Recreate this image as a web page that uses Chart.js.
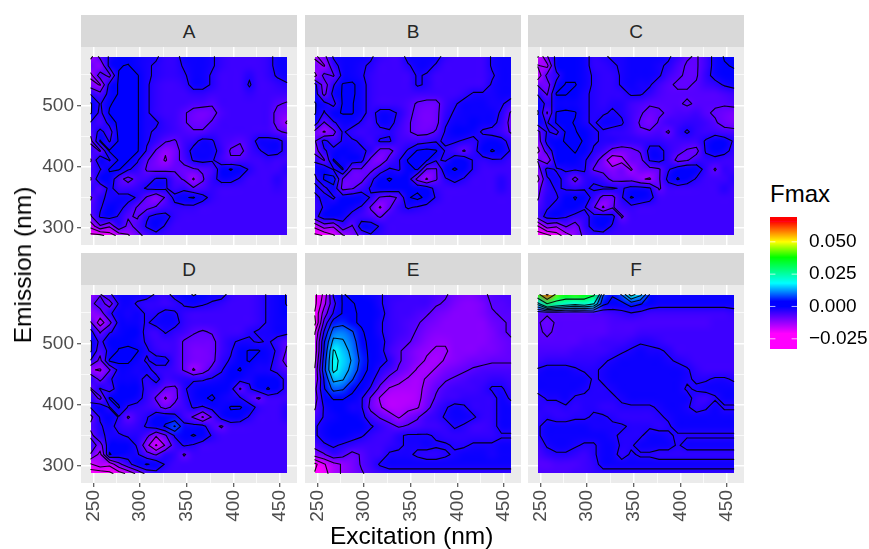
<!DOCTYPE html>
<html>
<head>
<meta charset="utf-8">
<script src="https://cdn.jsdelivr.net/npm/chart.js@4"></script>
<style>
  body { margin: 0; background: #fff; font-family: "Liberation Sans", sans-serif; }
  #page { position: relative; width: 869px; height: 549px; overflow: hidden; }
  #page canvas { position: absolute; }
  .strip { position: absolute; height: 32px; background: #d9d9d9; color: #262626; font-size: 19px; line-height: 33px; text-align: center; }
  .title { position: absolute; color: #000; font-size: 22px; white-space: nowrap; }
</style>
</head>
<body>
<div id="page"></div>
<script>
// grid positions, values are in units of 0.001 Fmax
const excitation = [247,257,267,277,287,297,307,317,327,337,347,357,367,377,387,397,407,417,427,437,447,457];
const emission = [580,565,549,534,519,503,488,472,457,442,426,411,396,380,365,350,334,319,303,288];
const contourLevels = [-27.5,-22.5,-17.5,-12.5,-7.5,-2.5,2.5,7.5,12.5,17.5,30,45,60];
const xMajor = [250,300,350,400,450];
const xMinor = [275,325,375,425];
const yMajor = [300,400,500];
const yMinor = [350,450,550];
const legendTicks = [-0.025,0,0.025,0.05];
const legendStops = [-0.021,0,0.004,0.018,0.038,0.05,0.066];
const legendColors = ['#ff00ff','#0000ff','#0000ff','#00ffff','#00ff00','#ffff00','#ff0000'];
const panelNames = ['A','B','C','D','E','F'];

const panelA = [
[-14,-6,-2,0,0,-1,-2,-2,-4,-4,-1,-1,-1,-2,-4,-5,-5,-5,-5,-4,-1,-1],
[-8,-12,-1,2,3,-1,-2,-3,-4,-4,-2,-1,-1,-2,-4,-5,-5,-5,-5,-4,-1,-1],
[-14,-5,-9,3,3,3,-2,-3,-4,-4,-3,-1,-1,-3,-5,-5,-5,-3,-5,-4,-2,-1],
[-10,-13,-1,3,4,3,-2,-4,-5,-5,-4,-1,-1,-3,-5,-5,-5,-2,-5,-5,-4,-3],
[-3,-6,-1,3,4,3,-2,-4,-5,-5,-5,-4,-4,-5,-5,-5,-5,-4,-5,-5,-5,-5],
[3,-3,2,4,4,3,-2,-4,-5,-5,-5,-6,-6,-7,-5,-5,-5,-5,-5,-5,-7,-8],
[3,-4,3,4,4,3,-2,-4,-5,-5,-7,-9,-10,-9,-6,-5,-5,-5,-5,-5,-9,-10],
[-3,-6,-1,4,3,3,-2,-2,-4,-5,-7,-9,-9,-7,-5,-5,-5,-5,-5,-5,-9,-13],
[-6,-1,-5,4,3,3,-2,-3,-4,-5,-6,-7,-7,-5,-5,-5,-5,-5,-5,-5,-7,-8],
[-9,3,-3,3,3,3,-2,-4,-7,-8,-5,-4,-1,-2,-5,-6,-7,-5,-1,-1,-1,-4],
[-4,-8,3,3,3,3,-3,-8,-12,-10,-5,-1,-1,-1,-4,-8,-9,-5,-3,-1,-1,-4],
[-8,2,-3,3,3,-2,-7,-10,-13,-9,-6,-2,-1,-2,-5,-7,-6,-5,-5,-4,-5,-5],
[-5,-3,3,3,-2,-4,-8,-9,-9,-8,-9,-8,-7,-6,0,3,0,-3,-5,-5,-5,-3],
[-8,2,1,-6,-9,-6,-5,-2,-2,-6,-8,-13,-8,-4,-1,-1,-3,-5,-5,-5,-3,-5],
[-3,-7,-1,-5,-5,-4,-2,-1,-2,-5,-4,-7,-6,-4,-5,-5,-5,-5,-5,-5,-4,-5],
[-8,-3,-2,-1,-1,-3,-8,-12,-7,-1,2,3,-1,-4,-5,-5,-5,-5,-5,-5,-5,-5],
[-6,-3,0,-1,-4,-8,-9,-7,-5,-4,-4,-4,-5,-5,-5,-5,-5,-5,-5,-5,-5,-5],
[-8,-2,0,-3,-7,-8,-3,-1,-1,-4,-5,-5,-5,-5,-5,-5,-5,-5,-5,-5,-5,-5],
[-16,-8,-12,-3,-9,-6,-2,0,-3,-5,-5,-5,-5,-5,-5,-5,-5,-5,-5,-5,-5,-5],
[-24,-24,-20,-16,-13,-9,-6,-4,-5,-5,-5,-5,-5,-5,-5,-5,-5,-5,-5,-5,-5,-5]
];
const panelB = [
[-14,-9,-2,-1,-1,-1,-2,-4,-5,-5,-1,-1,-1,-1,-4,-5,-5,-5,-5,-2,-1,-1],
[-9,-13,-4,-1,-1,-2,-3,-5,-5,-5,-3,-1,-1,-3,-5,-5,-5,-5,-5,-2,-1,-1],
[-14,-6,-8,-1,-1,-2,-4,-5,-5,-5,-5,-2,-3,-5,-5,-5,-5,-5,-5,-3,-1,-1],
[-1,-10,-3,3,4,-1,-4,-5,-5,-5,-5,-2,-3,-5,-5,-5,-5,-5,-5,-2,-1,-1],
[0,-9,-1,3,4,-1,-4,-5,-5,-5,-5,-5,-5,-5,-5,-5,-4,-2,-2,-2,-1,-1],
[3,-1,-4,3,3,-1,-4,-5,-5,-5,-6,-8,-9,-9,-5,-3,-1,-1,-1,-2,-2,-4],
[3,-3,1,3,3,-1,-4,-1,-1,-3,-6,-9,-10,-9,-4,-2,-1,-1,-1,-1,-3,-8],
[0,-8,-3,-1,-1,-3,-5,-1,-1,-4,-7,-9,-10,-9,-3,-1,-1,0,-1,-1,-4,-9],
[-9,-13,-9,-2,-4,-5,-4,-4,-3,-5,-7,-9,-9,-7,-2,0,0,-1,-3,-4,-5,-8],
[-8,-1,-5,-2,-2,-3,-5,-2,-2,-5,-5,-5,-4,-3,-2,-2,-3,-4,-1,0,-1,-4],
[-10,-3,-1,2,-1,-2,-3,-9,-9,-5,-2,3,4,3,-3,-5,-8,-4,0,3,1,-3],
[-3,-8,3,-1,0,-1,-9,-11,-6,-3,3,4,3,-2,-3,0,1,-3,-4,-3,-3,-5],
[-1,2,-3,3,-8,-8,-9,-5,-2,-3,1,3,-8,-8,1,3,1,-3,-5,-5,-5,-5],
[-4,3,5,-8,-9,-9,-4,1,3,1,0,-9,-13,-8,-3,-1,-3,-5,-5,-5,-3,-5],
[-1,-4,1,-9,-8,-5,-2,1,1,0,1,1,0,-4,-5,-5,-5,-5,-5,-5,-3,-5],
[-4,-1,-3,0,1,1,-3,-8,-9,-7,2,4,1,-3,-5,-5,-5,-5,-5,-5,-5,-5],
[-5,-2,0,1,-1,-3,-8,-13,-8,-4,-2,-3,-4,-5,-5,-5,-5,-5,-5,-5,-5,-5],
[-4,0,1,-1,-4,-5,-6,-8,-5,-5,-5,-5,-5,-5,-5,-5,-5,-5,-5,-5,-5,-5],
[-16,-10,-12,-4,-8,0,0,-3,-5,-5,-5,-5,-5,-5,-5,-5,-5,-5,-5,-5,-5,-5],
[-24,-22,-18,-13,-10,-6,-3,-4,-5,-5,-5,-5,-5,-5,-5,-5,-5,-5,-5,-5,-5,-5]
];
const panelC = [
[-18,-8,-1,0,0,-1,-4,-3,-2,-2,-1,-1,-1,-1,-2,-4,-7,-8,-5,-1,3,3],
[-12,-14,0,1,0,-1,-4,-4,-3,-2,-1,-1,-1,-2,-3,-6,-8,-8,-5,-1,2,3],
[-16,-6,-4,1,1,-1,-3,-4,-4,-2,-1,-1,-1,-2,-5,-7,-8,-8,-4,-1,0,1],
[-8,-10,-1,3,3,-1,-3,-4,-4,-2,-1,-2,-2,-5,-7,-8,-8,-7,-5,-4,-2,-1],
[-3,-8,3,3,0,-2,-3,-4,-4,-4,-2,-2,-4,-6,-7,-7,-7,-7,-7,-7,-6,-5],
[1,-4,-1,-1,-1,-2,-3,-4,-3,-3,-5,-6,-7,-7,-7,-7,-8,-7,-7,-7,-7,-6],
[3,-8,3,4,3,-2,-3,-3,-2,-3,-5,-7,-9,-8,-7,-6,-6,-5,-7,-8,-9,-10],
[0,-3,3,4,2,-2,-3,-1,-1,-2,-5,-8,-10,-7,-5,-5,-4,-4,-5,-7,-9,-10],
[-9,-2,-4,3,3,0,-2,-3,-4,-4,-5,-7,-7,-6,-8,-4,-2,-4,-5,-5,-6,-6],
[-10,-1,1,3,4,2,-2,-3,-3,-4,-4,-4,-4,-4,-5,-5,-5,-5,-2,2,0,-3],
[-14,-5,0,1,3,0,-3,-5,-9,-10,-9,-7,-1,-1,-4,-6,-8,-9,-2,0,-1,-4],
[-7,-12,1,1,1,-2,-5,-10,-16,-14,-9,-9,-2,-1,-4,-9,-8,-5,-4,-4,-5,-5],
[-10,-1,-3,-2,-2,-2,-8,-9,-11,-9,-13,-9,-9,-8,-3,0,2,0,-4,-8,-4,-5],
[-14,-3,-1,-4,-9,-4,-3,-5,-9,-9,-9,-12,-13,-8,-1,3,0,-3,-5,-5,-5,-3],
[-9,-4,-2,-3,-4,-3,-2,-2,-2,-3,-1,-1,-2,-8,-5,-5,-5,-5,-5,-5,-3,-5],
[-8,-3,-3,0,3,0,-4,-9,-9,-3,3,1,-1,-5,-5,-5,-5,-5,-5,-5,-5,-5],
[-6,-3,-1,1,1,-2,-7,-13,-8,-5,-4,-5,-5,-5,-5,-5,-5,-5,-5,-5,-5,-5],
[-5,-1,0,-2,-4,-4,-1,0,-1,-8,-5,-5,-5,-5,-5,-5,-5,-5,-5,-5,-5,-5],
[-18,-10,-12,-7,-10,-4,-1,0,-3,-5,-5,-5,-5,-5,-5,-5,-5,-5,-5,-5,-5,-5],
[-26,-24,-20,-15,-11,-6,-4,-4,-5,-5,-5,-5,-5,-5,-5,-5,-5,-5,-5,-5,-5,-5]
];
const panelD = [
[-12,-8,-3,-1,-1,-1,-1,-3,-4,-1,0,3,1,-1,-1,-4,-5,-5,-4,-2,-1,3],
[-9,-5,-10,-2,-1,-3,-4,-4,-5,-4,-2,-1,-2,-3,-4,-5,-5,-5,-4,-2,-1,3],
[-12,-10,-3,-1,-2,-1,-3,-3,-1,-2,-4,-5,-5,-5,-5,-5,-5,-5,-4,-2,-1,0],
[-7,-15,-9,-1,-1,-1,-3,-1,-1,-1,-4,-5,-5,-5,-5,-5,-5,-5,-4,-2,-1,-1],
[-1,-8,-3,-1,1,0,-4,-5,-2,-4,-5,-7,-8,-7,-5,-5,-5,-3,-2,-2,-1,-1],
[3,-4,1,1,1,-1,-3,-5,-5,-5,-8,-9,-9,-9,-5,-3,-2,-2,-3,-2,-4,-7],
[3,-6,-1,3,4,3,-2,-4,-5,-5,-8,-10,-10,-9,-5,-3,1,3,3,-1,-3,-8],
[-3,-9,3,4,4,-1,-3,-1,-1,-5,-8,-10,-10,-9,-4,-2,1,3,-1,-1,-4,-10],
[-12,-13,-8,-1,-1,-2,-1,-4,-4,-5,-8,-13,-10,-6,-3,1,3,-1,-2,-2,-4,-6],
[-3,-9,-3,-1,-1,-1,-4,-1,-5,-4,-3,-3,-3,-2,-1,1,-1,-2,0,0,0,-4],
[-8,-2,-5,0,0,0,-4,-5,-8,-9,-3,-1,0,0,1,-1,-8,-3,0,3,0,-4],
[-3,-9,3,1,0,-1,-4,-8,-13,-9,-4,-1,1,4,-1,-2,-2,-6,-8,-5,-5,-5],
[-2,1,-3,3,-3,-4,-5,-6,-9,-6,-5,-2,-3,-1,-1,3,3,0,-4,-5,-5,-3],
[-9,-2,2,-3,-8,-5,-3,1,1,-1,-5,-8,-13,-7,-1,1,0,-3,-5,-5,-5,-3],
[-6,-3,-1,-4,-5,-4,-2,0,3,8,-1,-1,-1,-6,-8,-5,-5,-5,-5,-5,-5,-5],
[-9,-3,-2,-2,-3,-3,-6,-12,-8,-2,1,3,1,-3,-5,-5,-5,-5,-5,-5,-5,-5],
[-4,-10,1,1,0,-3,-11,-18,-12,-5,-2,-3,-5,-5,-5,-5,-5,-5,-5,-5,-5,-5],
[-8,-14,3,0,-1,-2,-6,-8,-3,-4,-8,-5,-5,-5,-5,-5,-5,-5,-5,-5,-5,-5],
[-18,-14,-16,-9,-4,0,3,1,-3,-5,-5,-5,-5,-5,-5,-5,-5,-5,-5,-5,-5,-5],
[-26,-26,-24,-20,-16,-11,-6,-4,-5,-5,-5,-5,-5,-5,-5,-5,-5,-5,-5,-5,-5,-5]
];
const panelE = [
[-24,-16,-2,3,1,1,-1,-2,-4,-4,-5,-5,-5,-6,-7,-9,-10,-10,-8,-7,-6,-6],
[-24,-14,-4,3,3,1,0,-2,-4,-5,-5,-5,-5,-7,-8,-10,-11,-11,-10,-7,-7,-6],
[-22,-10,-2,3,3,2,0,-1,-4,-5,-5,-6,-7,-9,-10,-11,-11,-11,-10,-8,-7,-7],
[-24,-6,5,6,3,2,1,-2,-4,-5,-6,-7,-9,-10,-11,-11,-11,-11,-11,-9,-8,-7],
[-18,-2,10,11,8,3,1,-2,-4,-5,-6,-8,-10,-11,-11,-11,-11,-11,-11,-10,-8,-7],
[-16,2,14,13,10,4,1,-1,-4,-6,-7,-9,-11,-12,-12,-11,-11,-11,-11,-10,-9,-8],
[-16,3,18,15,11,5,1,-1,-5,-7,-9,-11,-12,-13,-13,-11,-11,-11,-10,-10,-9,-8],
[-14,5,19,16,12,6,1,-1,-3,-7,-9,-11,-13,-14,-12,-11,-10,-9,-9,-8,-8,-8],
[-12,6,19,15,11,5,1,-3,-5,-8,-10,-13,-14,-12,-10,-9,-8,-7,-6,-6,-6,-6],
[-12,3,14,13,8,3,-1,-5,-9,-11,-13,-14,-12,-10,-8,-7,-6,-5,-5,-4,-4,-5],
[-9,2,9,8,4,0,-3,-9,-13,-14,-14,-14,-11,-8,-6,-5,-5,-5,-4,-2,-2,-4],
[-10,0,3,3,1,-2,-8,-13,-15,-15,-15,-14,-10,-7,-5,-5,-4,-4,-4,-4,-1,-3],
[-8,-2,0,0,-2,-2,-9,-12,-15,-15,-14,-13,-9,-5,-3,-1,-2,-4,-4,-4,-1,-1],
[-6,-2,-1,0,0,-1,-5,-8,-10,-13,-10,-8,-5,-4,-2,-1,-1,-2,-4,-4,-1,-1],
[-3,-1,0,0,0,0,-2,-4,-6,-8,-7,-6,-5,-5,-4,-2,-3,-5,-5,-4,-1,-1],
[-3,-1,0,0,-1,-2,-4,-5,-5,-3,-2,-2,-2,-3,-4,-4,-4,-4,-4,-4,-3,-3],
[-6,-3,-2,-3,-4,-5,-5,-5,-4,-3,-2,-2,-1,-2,-2,-3,-3,-2,-2,-2,-1,-1],
[-10,-8,-4,-6,-9,-7,-5,-5,-2,-2,-2,-3,-4,-4,-3,-2,-1,-1,-1,-2,-1,-1],
[-24,-18,-14,-12,-10,-7,-5,-2,-1,-1,-1,-1,-1,-1,-1,-1,-1,-1,-1,-1,-1,-1],
[-22,-20,-14,-12,-10,-8,-6,-5,-4,-4,-4,-4,-4,-4,-4,-4,-4,-4,-4,-4,-4,-4]
];
const panelF = [
[40,62,42,38,40,38,32,8,3,8,20,14,2,-1,-1,-1,-1,-1,-1,-1,-1,-1],
[15,30,25,22,20,22,18,4,1,1,5,3,0,-1,-1,-1,-1,-1,-1,-1,-1,-1],
[-7,-7,-7,-7,-7,-7,-6,-6,-5,-4,-3,-4,-5,-5,-5,-5,-5,-5,-5,-5,-5,-4],
[-7,-9,-7,-7,-7,-7,-7,-7,-6,-6,-6,-6,-6,-6,-6,-6,-6,-6,-6,-5,-5,-5],
[-7,-8,-7,-7,-7,-7,-7,-7,-6,-6,-6,-5,-5,-5,-5,-5,-5,-5,-5,-5,-5,-5],
[-7,-7,-7,-7,-7,-6,-6,-5,-5,-5,-4,-3,-3,-4,-5,-5,-5,-5,-5,-5,-5,-5],
[-6,-6,-6,-6,-5,-5,-5,-5,-4,-3,-2,-1,-2,-2,-3,-5,-5,-5,-5,-5,-5,-5],
[-5,-4,-4,-4,-4,-4,-4,-3,-2,-1,-1,-1,-1,-1,-2,-3,-4,-5,-5,-5,-5,-5],
[-2,-1,-1,-1,-2,-3,-3,-2,-1,-1,-1,-1,-1,-1,-1,-1,-2,-4,-5,-5,-5,-5],
[-1,-1,-1,-1,-1,-1,-3,-2,-1,-1,-1,-1,-1,-1,-1,-1,-2,-3,-3,-2,-2,-3],
[-1,-1,-1,-1,-1,-2,-3,-3,-2,-1,-1,-1,-1,-1,-1,-1,-3,-2,-1,-1,-1,-1],
[-4,-2,-2,-1,-3,-3,-3,-3,-3,-2,-1,-1,-1,-1,-1,-1,-1,-4,-5,-3,-1,-1],
[-3,-4,-4,-3,-4,-3,-3,-4,-4,-3,-3,-3,-3,-2,-1,-1,-2,-4,-3,-1,-3,-3],
[-4,-3,-4,-4,-3,-3,-2,-2,-3,-4,-4,-4,-4,-3,-2,-1,-1,-1,-1,-1,-1,-1],
[-3,-1,-1,-1,-1,-1,-2,-2,-2,-2,-3,-3,-3,-4,-3,-1,-1,-1,-1,-1,-1,-1],
[-3,-1,-1,-1,-1,-1,-1,-1,-2,-3,-3,-3,-1,-1,-2,-3,-3,-3,-3,-3,-3,-3],
[-5,-2,-1,-1,-2,-3,-3,-1,-1,-3,-3,-1,-1,-1,-1,-3,-1,-1,-1,-1,-1,-1],
[-6,-4,-3,-3,-4,-5,-3,-1,-1,-4,-2,-3,-3,-4,-4,-4,-4,-4,-4,-4,-4,-4],
[-7,-7,-6,-6,-6,-5,-4,-1,-1,-1,-1,-1,-1,-1,-1,-1,-1,-1,-1,-1,-1,-1],
[-6,-6,-6,-6,-5,-5,-4,-4,-4,-4,-4,-4,-4,-4,-4,-4,-4,-4,-4,-4,-4,-4]
];
const panels = [panelA, panelB, panelC, panelD, panelE, panelF];

const page = document.getElementById('page');

function addDiv(cls, text, css) {
    const div = document.createElement('div');
    div.className = cls;
    div.textContent = text;
    Object.assign(div.style, css);
    page.appendChild(div);
}

function addCanvas(left, top, width, height) {
    const canvas = document.createElement('canvas');
    canvas.width = width;
    canvas.height = height;
    canvas.style.left = left + 'px';
    canvas.style.top = top + 'px';
    page.appendChild(canvas);
    return canvas;
}

function hexToRgb(hex) {
    return [1, 3, 5].map(i => parseInt(hex.substr(i, 2), 16));
}

// value is in Fmax units
function colorFor(value) {
    const v = Math.min(legendStops[legendStops.length - 1], Math.max(legendStops[0], value));
    for (let i = 1; i < legendStops.length; i++) {
        if (v <= legendStops[i]) {
            const t = (v - legendStops[i - 1]) / (legendStops[i] - legendStops[i - 1]);
            const a = hexToRgb(legendColors[i - 1]);
            const b = hexToRgb(legendColors[i]);
            return a.map((c, k) => Math.round(c + (b[k] - c) * t));
        }
    }
    return hexToRgb(legendColors[legendColors.length - 1]);
}

const panelBackground = {
    id: 'panelBackground',
    beforeDraw(chart) {
        const a = chart.chartArea;
        chart.ctx.fillStyle = '#ebebeb';
        chart.ctx.fillRect(a.left, a.top, a.width, a.height);
    }
};

function drawRaster(chart) {
    const ctx = chart.ctx;
    const sx = chart.scales.x;
    const sy = chart.scales.y;
    const off = document.createElement('canvas');
    off.width = excitation.length;
    off.height = emission.length;
    const offCtx = off.getContext('2d');
    const img = offCtx.createImageData(off.width, off.height);
    chart.data.datasets[0].data.forEach((p, i) => {
        const c = colorFor(p.v * 0.001);
        img.data[i * 4] = c[0];
        img.data[i * 4 + 1] = c[1];
        img.data[i * 4 + 2] = c[2];
        img.data[i * 4 + 3] = 255;
    });
    offCtx.putImageData(img, 0, 0);
    const x0 = sx.getPixelForValue(excitation[0]);
    const x1 = sx.getPixelForValue(excitation[excitation.length - 1]);
    const y0 = sy.getPixelForValue(emission[0]);
    const y1 = sy.getPixelForValue(emission[emission.length - 1]);
    ctx.imageSmoothingEnabled = true;
    ctx.imageSmoothingQuality = 'high';
    ctx.drawImage(off, 0.5, 0.5, off.width - 1, off.height - 1, x0, y0, x1 - x0, y1 - y0);
}

// marching squares over the grid, one level at a time
function drawContours(chart, grid) {
    const ctx = chart.ctx;
    const sx = chart.scales.x;
    const sy = chart.scales.y;
    ctx.save();
    ctx.strokeStyle = 'rgba(0,0,0,0.9)';
    ctx.lineWidth = 1.1;
    ctx.lineJoin = 'round';
    ctx.lineCap = 'round';
    contourLevels.forEach(level => {
        ctx.beginPath();
        for (let r = 0; r < emission.length - 1; r++) {
            for (let c = 0; c < excitation.length - 1; c++) {
                const corners = [
                    [c, r, grid[r][c]],
                    [c + 1, r, grid[r][c + 1]],
                    [c + 1, r + 1, grid[r + 1][c + 1]],
                    [c, r + 1, grid[r + 1][c]]
                ];
                const hits = [];
                for (let k = 0; k < 4; k++) {
                    const a = corners[k];
                    const b = corners[(k + 1) % 4];
                    if ((a[2] < level) !== (b[2] < level)) {
                        const t = (level - a[2]) / (b[2] - a[2]);
                        const ex = excitation[a[0]] + (excitation[b[0]] - excitation[a[0]]) * t;
                        const em = emission[a[1]] + (emission[b[1]] - emission[a[1]]) * t;
                        hits.push([sx.getPixelForValue(ex), sy.getPixelForValue(em)]);
                    }
                }
                for (let k = 0; k + 1 < hits.length; k += 2) {
                    ctx.moveTo(hits[k][0], hits[k][1]);
                    ctx.lineTo(hits[k + 1][0], hits[k + 1][1]);
                }
            }
        }
        ctx.stroke();
    });
    ctx.restore();
}

const eemPlugin = {
    id: 'eemPlugin',
    beforeDatasetsDraw(chart, args, opts) {
        drawRaster(chart);
        drawContours(chart, opts.grid);
    }
};

function makePanel(index) {
    const col = index % 3;
    const row = Math.floor(index / 3);
    const panelLeft = [81, 305, 528][col];
    const stripTop = [15, 253][row];
    const isLeft = col === 0;
    const isBottom = row === 1;
    const grid = panels[index];

    addDiv('strip', panelNames[index], { left: panelLeft + 'px', top: stripTop + 'px', width: '216px' });

    const canvas = addCanvas(panelLeft - 50, stripTop, 266, 280);
    const points = [];
    emission.forEach((em, r) => {
        excitation.forEach((ex, c) => {
            points.push({ x: ex, y: em, v: grid[r][c] });
        });
    });

    new Chart(canvas, {
        type: 'scatter',
        data: { datasets: [{ label: panelNames[index], data: points, pointRadius: 0, pointHoverRadius: 0 }] },
        plugins: [panelBackground, eemPlugin],
        options: {
            responsive: false,
            animation: false,
            layout: { autoPadding: false, padding: { top: 32, left: 0, right: 0, bottom: 0 } },
            plugins: {
                legend: { display: false },
                tooltip: { enabled: false },
                eemPlugin: { grid: grid }
            },
            scales: {
                x: {
                    type: 'linear',
                    min: 236.5,
                    max: 468,
                    afterFit: s => { s.height = 50; s.paddingLeft = 0; s.paddingRight = 0; },
                    afterBuildTicks: s => {
                        s.ticks = xMajor.concat(xMinor).sort((a, b) => a - b).map(v => ({ value: v }));
                    },
                    border: { display: false },
                    grid: {
                        color: '#ffffff',
                        lineWidth: c => (xMajor.includes(c.tick.value) ? 1.5 : 0.7),
                        drawTicks: isBottom,
                        tickLength: 4,
                        tickWidth: 1,
                        tickColor: c => (xMajor.includes(c.tick.value) ? '#333333' : 'rgba(0,0,0,0)')
                    },
                    ticks: {
                        display: isBottom,
                        autoSkip: false,
                        minRotation: 90,
                        maxRotation: 90,
                        padding: 3,
                        color: '#4d4d4d',
                        font: { family: '"Liberation Sans"', size: 19 },
                        callback: v => (xMajor.includes(v) ? String(v) : '')
                    }
                },
                y: {
                    type: 'linear',
                    min: 272.5,
                    max: 595.5,
                    afterFit: s => { s.width = 50; s.paddingTop = 0; s.paddingBottom = 0; },
                    afterBuildTicks: s => {
                        s.ticks = yMajor.concat(yMinor).sort((a, b) => a - b).map(v => ({ value: v }));
                    },
                    border: { display: false },
                    grid: {
                        color: '#ffffff',
                        lineWidth: c => (yMajor.includes(c.tick.value) ? 1.5 : 0.7),
                        drawTicks: isLeft,
                        tickLength: 4,
                        tickWidth: 1,
                        tickColor: c => (yMajor.includes(c.tick.value) ? '#333333' : 'rgba(0,0,0,0)')
                    },
                    ticks: {
                        display: isLeft,
                        autoSkip: false,
                        padding: 3,
                        color: '#4d4d4d',
                        font: { family: '"Liberation Sans"', size: 19 },
                        callback: v => (yMajor.includes(v) ? String(v) : '')
                    }
                }
            }
        }
    });
}

const legendBar = {
    id: 'legendBar',
    beforeDatasetsDraw(chart) {
        const ctx = chart.ctx;
        const a = chart.chartArea;
        const sy = chart.scales.y;
        const span = sy.getPixelForValue(legendStops[0]) - sy.getPixelForValue(legendStops[legendStops.length - 1]);
        const top = sy.getPixelForValue(legendStops[legendStops.length - 1]);
        const gradient = ctx.createLinearGradient(0, top, 0, top + span);
        for (let i = legendStops.length - 1; i >= 0; i--) {
            gradient.addColorStop((sy.getPixelForValue(legendStops[i]) - top) / span, legendColors[i]);
        }
        ctx.fillStyle = legendColors[0];
        ctx.fillRect(a.left, a.top, a.width, a.height);
        ctx.fillStyle = legendColors[legendColors.length - 1];
        ctx.fillRect(a.left, a.top, a.width, top - a.top);
        ctx.fillStyle = gradient;
        ctx.fillRect(a.left, top, a.width, span);
        // white tick marks inside the bar
        ctx.strokeStyle = '#ffffff';
        ctx.lineWidth = 0.7;
        legendTicks.forEach(v => {
            const y = sy.getPixelForValue(v);
            ctx.beginPath();
            ctx.moveTo(a.left, y);
            ctx.lineTo(a.left + a.width / 5, y);
            ctx.moveTo(a.right - a.width / 5, y);
            ctx.lineTo(a.right, y);
            ctx.stroke();
        });
    }
};

function makeLegend() {
    addDiv('title', 'Fmax', { left: '770px', top: '180px', fontSize: '24px' });
    const canvas = addCanvas(770, 205, 99, 160);
    new Chart(canvas, {
        type: 'scatter',
        data: { datasets: [{ data: legendStops.map(v => ({ x: 0, y: v })), pointRadius: 0 }] },
        plugins: [legendBar],
        options: {
            responsive: false,
            animation: false,
            layout: { autoPadding: false, padding: { top: 12, left: 0, right: 0, bottom: 16 } },
            plugins: { legend: { display: false }, tooltip: { enabled: false } },
            scales: {
                x: { display: false, min: 0, max: 1 },
                y: {
                    position: 'right',
                    min: -0.0329,
                    max: 0.0692,
                    afterFit: s => { s.width = 72; s.paddingTop = 0; s.paddingBottom = 0; },
                    afterBuildTicks: s => { s.ticks = legendTicks.map(v => ({ value: v })); },
                    border: { display: false },
                    grid: { display: false, drawTicks: false, tickLength: 0 },
                    ticks: {
                        autoSkip: false,
                        padding: 12,
                        color: '#000000',
                        font: { family: '"Liberation Sans"', size: 19 },
                        callback: v => (v < 0 ? '\u2212' : '') + Math.abs(v).toFixed(3)
                    }
                }
            }
        }
    });
}

panels.forEach((p, i) => makePanel(i));
makeLegend();

addDiv('title', 'Excitation (nm)', { left: '330px', top: '522px', fontSize: '24.5px' });
addDiv('title', 'Emission (nm)', { left: '23px', top: '265px', transform: 'translate(-50%, -50%) rotate(-90deg)', fontSize: '24.5px' });
</script>
</body>
</html>
